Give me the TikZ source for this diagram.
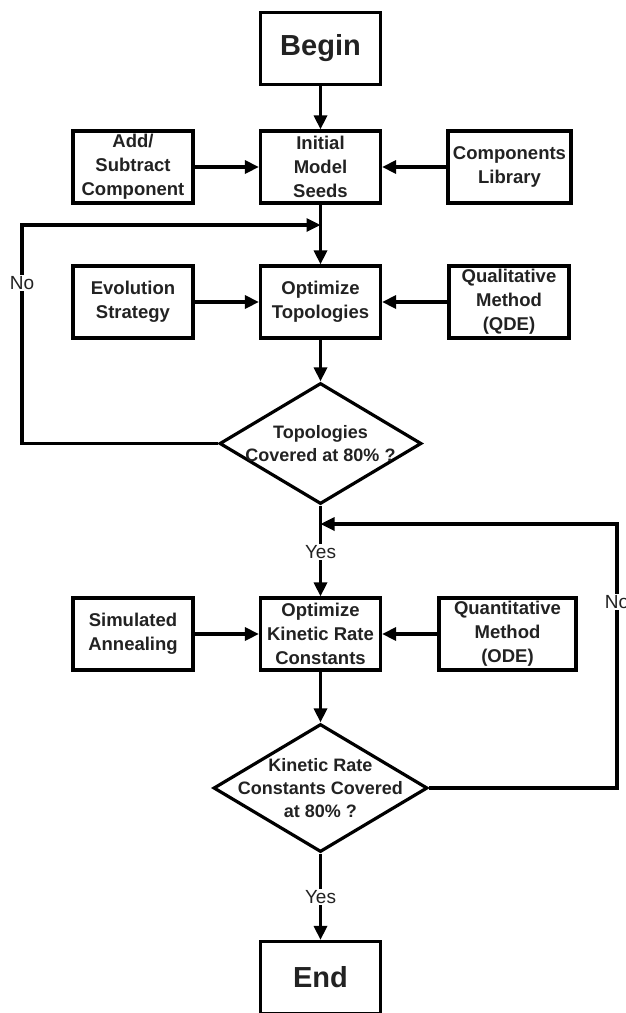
\documentclass[tikz,border=0pt]{standalone}
\usepackage{fontspec}
\setmainfont{Liberation Sans}
\usetikzlibrary{shapes.geometric,arrows.meta}
\definecolor{ink}{HTML}{222222}

\begin{document}
\begin{tikzpicture}[x=1pt,y=-1pt,
  box/.style={draw,line width=3.2pt,align=center,text=ink,inner sep=0pt,
    font=\fontsize{18.5}{24}\selectfont\bfseries,minimum width=120pt,minimum height=72pt},
  term/.style={box,font=\fontsize{29}{34}\selectfont\bfseries},
  decision/.style={draw,diamond,line width=3.2pt,inner sep=0pt},
  qtext/.style={align=center,text=ink,font=\fontsize{18}{23}\selectfont\bfseries},
  flow/.style={line width=3.2pt,-{Triangle[length=14pt,width=13pt]}},
  lbl/.style={fill=white,text=ink,inner sep=1.5pt,font=\fontsize{19}{22}\selectfont}]
\useasboundingbox (0,0) rectangle (625,1013);

\node[term] (begin) at (320.5,48.5) {Begin};
\node[box] (init) at (320.5,167) {Initial\\Model\\Seeds};
\node[box] (add) at (133,167) {Add/\\Subtract\\Component};
\node[box,minimum width=123pt] (lib) at (509.5,167) {Components\\Library};

\node[box] (opttop) at (320.5,302) {Optimize\\Topologies};
\node[box] (evo) at (133,302) {Evolution\\Strategy};
\node[box] (qual) at (509,302) {Qualitative\\Method\\(QDE)};

\node[decision,minimum width=202pt,minimum height=121pt] (dec1) at (320.5,443.5) {};
\node[qtext] (q1) at (dec1.center) {Topologies\\Covered at 80\% ?};

\node[box] (optkin) at (320.5,634) {Optimize\\Kinetic Rate\\Constants};
\node[box] (sim) at (133,634) {Simulated\\Annealing};
\node[box,minimum width=137pt] (quant) at (507.5,634) {Quantitative\\Method\\(ODE)};

\node[decision,minimum width=214pt,minimum height=128pt] (dec2) at (320.5,788) {};
\node[qtext] (q2) at (dec2.center) {Kinetic Rate\\Constants Covered\\at 80\% ?};

\node[term] (end) at (320.5,977.5) {End};

\coordinate (nl) at (22,225);
\coordinate (nj) at (320.5,225);
\coordinate (nr) at (617,524);
\coordinate (nk) at (320.5,524);

% main line
\draw[flow] (begin) -- (init);
\draw[flow] (init) -- (opttop);
\draw[flow] (opttop) -- (dec1);
\draw[flow] (dec1) -- (optkin);
\draw[flow] (optkin) -- (dec2);
\draw[flow] (dec2) -- (end);

% side inputs
\draw[flow] (add) -- (init);
\draw[flow] (lib) -- (init);
\draw[flow] (evo) -- (opttop);
\draw[flow] (qual) -- (opttop);
\draw[flow] (sim) -- (optkin);
\draw[flow] (quant) -- (optkin);

% loops back
\draw[flow] (dec1.west) -| (nl) -- (nj);
\draw[flow] (dec2.east) -| (nr) -- (nk);

\node[lbl] (no1) at (22,283) {No};
\node[lbl] (no2) at (617,602) {No};
\node[lbl] (yes1) at (320.5,552) {Yes};
\node[lbl] (yes2) at (320.5,897) {Yes};
\end{tikzpicture}
\end{document}
